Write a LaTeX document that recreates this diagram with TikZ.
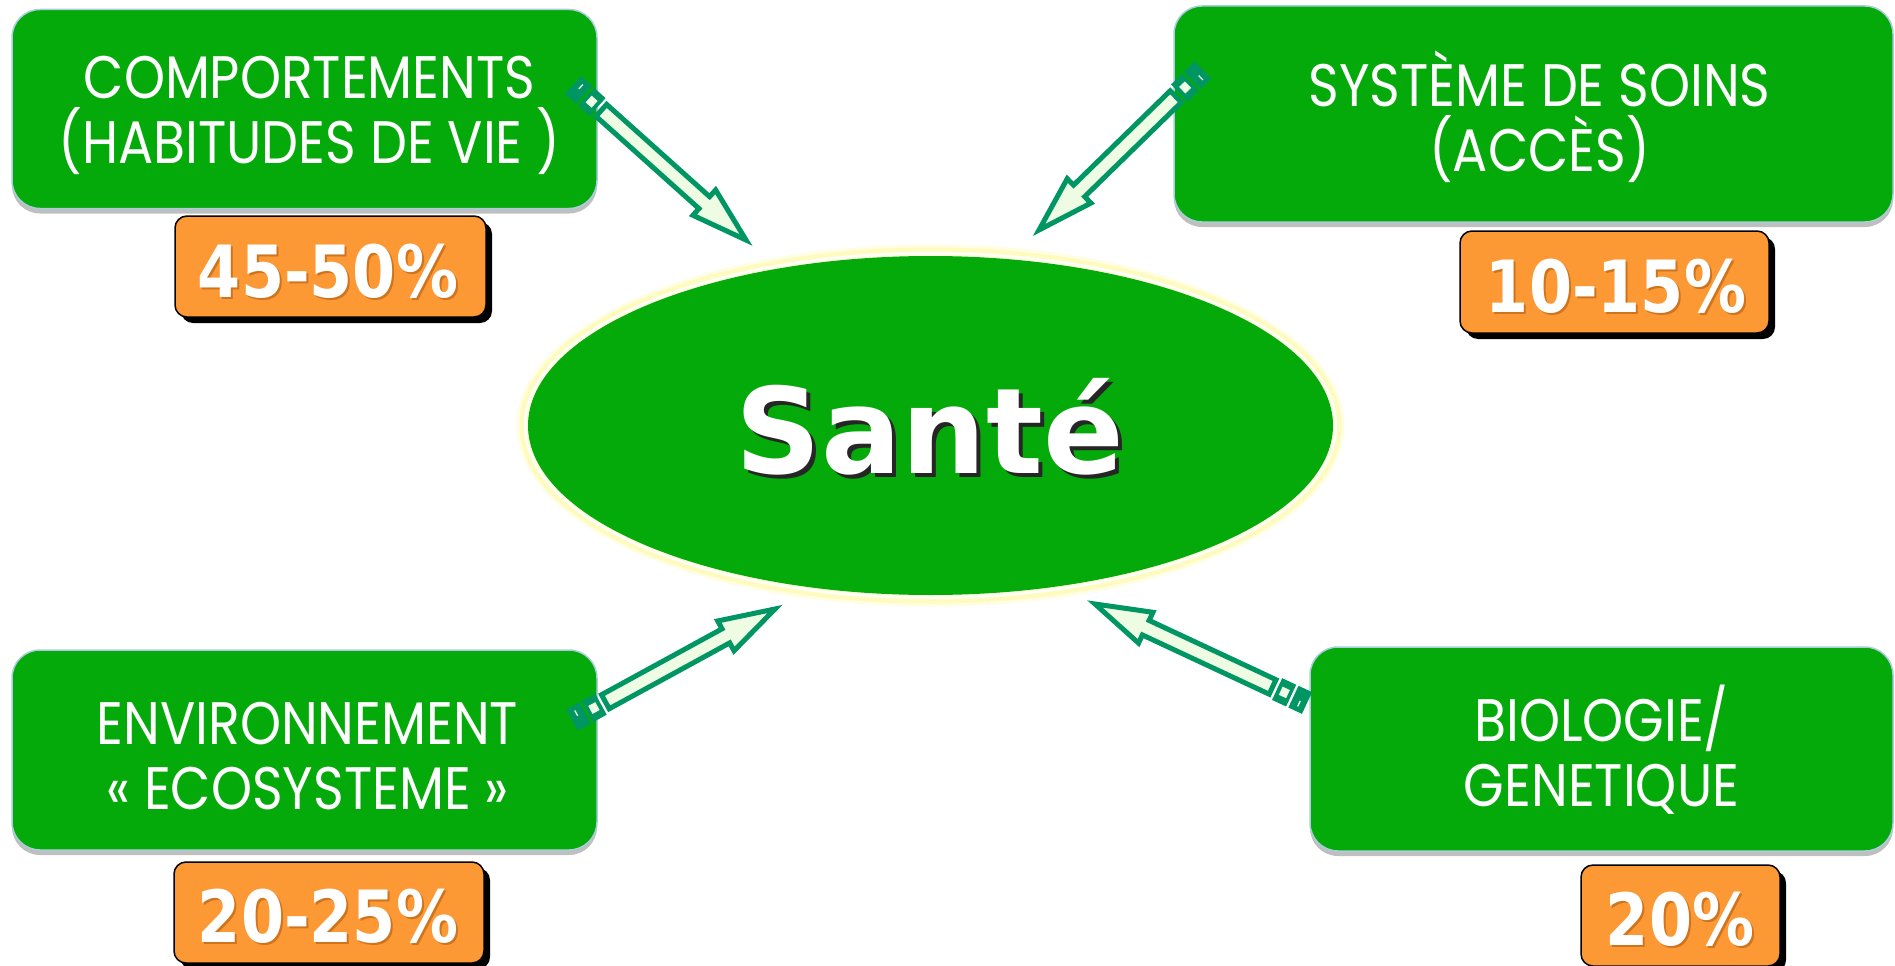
\documentclass[tikz,border=0pt]{standalone}
\usepackage{fontspec}
\setmainfont{Poppins}
\newfontfamily\boxfont{Poppins}[FakeStretch=0.87]
\newfontfamily\pctfont{DejaVu Sans Bold}[FakeStretch=0.86]
\newfontfamily\santefont{DejaVu Sans Bold}
\usetikzlibrary{calc,shadows,shapes.geometric}
\definecolor{boxgreen}{RGB}{4,170,10}
\definecolor{pctorange}{RGB}{253,153,53}
\definecolor{pctshade}{RGB}{170,85,10}
\definecolor{arrowline}{RGB}{0,150,100}
\definecolor{arrowfill}{RGB}{238,252,228}
\definecolor{glowyellow}{RGB}{255,250,190}
\definecolor{glowpale}{RGB}{255,254,225}
\definecolor{boxedge}{RGB}{170,205,220}
\tikzset{
  factorbox/.style={draw=boxedge, line width=1.5pt, fill=boxgreen, rounded corners=28pt,
    inner sep=0pt,
    drop shadow={shadow xshift=0pt, shadow yshift=-5pt, opacity=0.25, fill=black}},
  boxtext/.style={inner sep=0pt, text=white, align=center,
    font=\boxfont\fontsize{60}{65}\selectfont},
  pctbox/.style={draw=black, line width=1.5pt, fill=pctorange, rounded corners=12pt,
    inner sep=0pt,
    drop shadow={shadow xshift=6pt, shadow yshift=-6pt, opacity=1, fill=black}},
  pcttext/.style={anchor=base, inner sep=0pt, text=white, font=\pctfont\fontsize{72}{72}\selectfont},
  pctshadow/.style={anchor=base, inner sep=0pt, text=pctshade, opacity=0.55, font=\pctfont\fontsize{72}{72}\selectfont},
  penbody/.style={draw=arrowline, fill=arrowfill, line width=5pt, line join=miter}
}
\newcommand\penarrow[3]{%
  \coordinate (#1-t) at ($(#2)!38pt!(#3)$);
  \coordinate (#1-b) at ($(#3)!56pt!(#2)$);
  \coordinate (#1-m) at ($(#2)!7pt!(#3)$);
  \coordinate (#1-p) at ($(#2)!15pt!(#3)$);
  \coordinate (#1-q) at ($(#2)!17.5pt!(#3)$);
  \coordinate (#1-r) at ($(#2)!33pt!(#3)$);
  \coordinate (#1-s) at ($(#2)!21pt!(#3)$);
  \coordinate (#1-u) at ($(#2)!29pt!(#3)$);
  \fill[arrowline] ($(#2)!12pt!90:(#3)$) -- ($(#1-p)!12pt!90:(#3)$) -- ($(#1-p)!12pt!-90:(#3)$) -- ($(#2)!12pt!-90:(#3)$) -- cycle;
  \fill[arrowline] ($(#1-q)!12pt!90:(#3)$) -- ($(#1-r)!12pt!90:(#3)$) -- ($(#1-r)!12pt!-90:(#3)$) -- ($(#1-q)!12pt!-90:(#3)$) -- cycle;
  \draw[arrowfill, line width=1.3pt] ($(#1-m)!7pt!90:(#3)$) -- ($(#1-m)!1pt!90:(#3)$);
  \fill[arrowfill] ($(#1-s)!4.5pt!90:(#3)$) -- ($(#1-u)!4.5pt!90:(#3)$) -- ($(#1-u)!4.5pt!-90:(#3)$) -- ($(#1-s)!4.5pt!-90:(#3)$) -- cycle;
  \draw[penbody] ($(#1-t)!8pt!90:(#3)$) -- ($(#1-b)!8pt!90:(#3)$) -- ($(#1-b)!17pt!90:(#3)$) -- (#3)
    -- ($(#1-b)!17pt!-90:(#3)$) -- ($(#1-b)!8pt!-90:(#3)$) -- ($(#1-t)!8pt!-90:(#3)$) -- cycle;
}
\begin{document}
\begin{tikzpicture}[x=1pt, y=-1pt]
\useasboundingbox (0,0) rectangle (1895,966);
\fill[white] (0,0) rectangle (1895,966);

% factor boxes
\node[factorbox, minimum width=585pt, minimum height=199pt] (comp) at (304.5,109) {};
\node[factorbox, minimum width=719pt, minimum height=216pt] (soins) at (1533.5,114) {};
\node[factorbox, minimum width=585pt, minimum height=200pt] (envi) at (304.5,750) {};
\node[factorbox, minimum width=583pt, minimum height=204pt] (bio) at (1601.5,749) {};
\node[boxtext] (comp-t) at ($(comp)+(5,6)$) {COMPORTEMENTS\\(HABITUDES DE VIE )};
\node[boxtext] (soins-t) at ($(soins)+(6,3)$) {SYSTÈME DE SOINS\\(ACCÈS)};
\node[boxtext] (envi-t) at ($(envi)+(3,6)$) {ENVIRONNEMENT\\« ECOSYSTEME »};
\node[boxtext] (bio-t) at ($(bio)+(0,1)$) {BIOLOGIE/\\GENETIQUE};

% percentage boxes
\node[pctbox, minimum width=311pt, minimum height=101pt] (pcomp) at (330.5,266.5) {};
\node[pctbox, minimum width=309pt, minimum height=102pt] (psoins) at (1614.5,282) {};
\node[pctbox, minimum width=310pt, minimum height=101pt] (penvi) at (329,912.5) {};
\node[pctbox, minimum width=199pt, minimum height=101pt] (pbio) at (1680.5,915.5) {};

\node[pctshadow] (pcomp-s) at (330,299) {45-50\%};
\node[pcttext] (pcomp-t) at (328,297) {45-50\%};
\node[pctshadow] (psoins-s) at (1618,314) {10-15\%};
\node[pcttext] (psoins-t) at (1616,312) {10-15\%};
\node[pctshadow] (penvi-s) at (330,944) {20-25\%};
\node[pcttext] (penvi-t) at (328,942) {20-25\%};
\node[pctshadow] (pbio-s) at (1682,947) {20\%};
\node[pcttext] (pbio-t) at (1680,945) {20\%};

% central ellipse
\fill[glowpale] (930.5,425.5) ellipse [x radius=414pt, y radius=181pt];
\draw[glowyellow, line width=4pt] (930.5,425.5) ellipse [x radius=409pt, y radius=176pt];
\draw[white, line width=1.5pt] (930.5,425.5) ellipse [x radius=405.5pt, y radius=172.5pt];
\node[ellipse, fill=boxgreen, minimum width=805pt, minimum height=339pt, inner sep=0pt] (sante) at (930.5,425.5) {};
\node[anchor=base, inner sep=0pt, text=black!85, font=\santefont\fontsize{119}{119}\selectfont] (sante-s) at (934,477) {Santé};
\node[anchor=base, inner sep=0pt, text=white, font=\santefont\fontsize{119}{119}\selectfont] (sante-t) at (930,473) {Santé};

% arrows
\coordinate (a1e) at (573,85);   \coordinate (a1h) at (746,240);
\coordinate (a2e) at (1203,70);  \coordinate (a2h) at (1039,230);
\coordinate (a3e) at (572,720);  \coordinate (a3h) at (775,609);
\coordinate (a4e) at (1307,703); \coordinate (a4h) at (1095,604);
\penarrow{a1}{a1e}{a1h}
\penarrow{a2}{a2e}{a2h}
\penarrow{a3}{a3e}{a3h}
\penarrow{a4}{a4e}{a4h}
\end{tikzpicture}
\end{document}
